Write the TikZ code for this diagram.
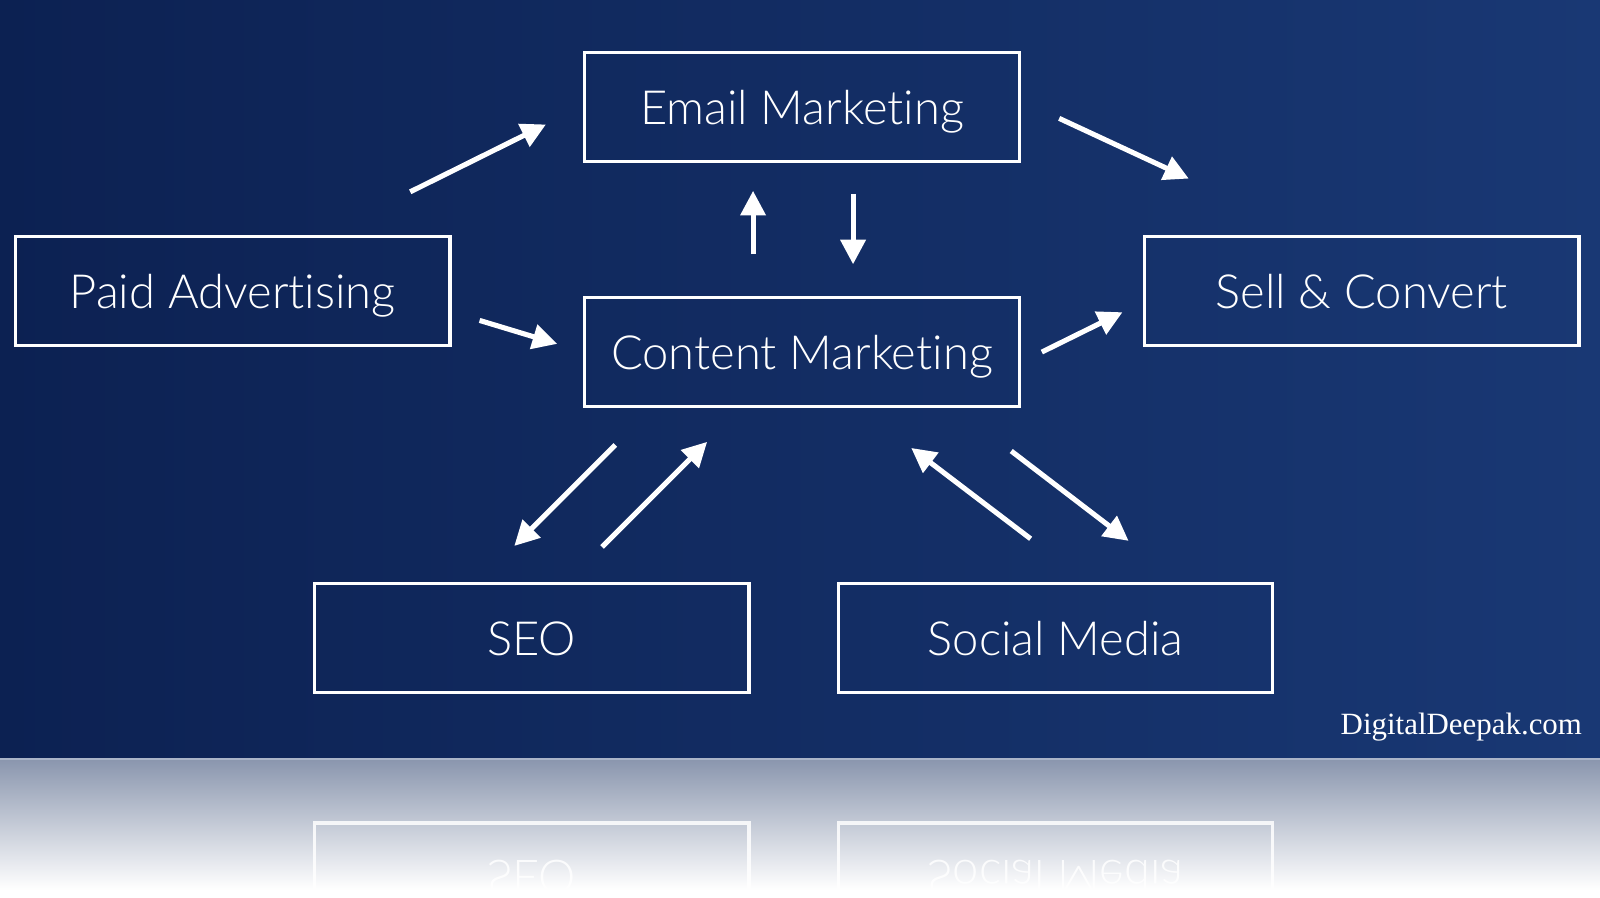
\documentclass[tikz,border=0pt]{standalone}
\usepackage{fontspec}
\setmainfont{Lato}[UprightFont={* Light},Ligatures=CommonOff]
\newfontfamily\sitefont{Liberation Serif}
\usepackage{tikz}
\usetikzlibrary{arrows.meta,positioning}
\usepackage{xcolor}
\definecolor{bgdark}{RGB}{12,33,82}
\definecolor{bglight}{RGB}{25,56,116}
\definecolor{reflgray}{RGB}{138,150,174}
\definecolor{rimline}{RGB}{170,180,200}

\begin{document}
\begin{tikzpicture}[x=0.010204cm,y=-0.010204cm,>={Triangle[length=7pt,width=7pt]},
  box/.style={draw=white,line width=0.9pt,minimum width=4.347cm,minimum height=1.092cm,
    inner sep=0pt,text depth=0pt,text=white,font=\fontsize{13.4}{15}\selectfont},
  flow/.style={->,white,line width=1.45pt}]
  \useasboundingbox (0,0) rectangle (1568,880);
  % background and reflection
  \shade[left color=bgdark,right color=bglight] (0,0) rectangle (1568,743);
  \fill[white] (0,743) rectangle (1568,880);
  \shade[top color=reflgray,bottom color=white] (0,744) rectangle (1568,872);
  \draw[rimline,line width=0.5pt] (0,743.5) -- (1568,743.5);

  \node[box] (email)                   at (786,105)  {Email Marketing};
  \node[box] (content) [below=1.325cm of email]       {Content Marketing};
  \node[box] (paid)                    at (228,285.5) {Paid Advertising};
  \node[box] (sell)                    at (1334.5,285.5) {Sell \& Convert};
  \node[box] (seo)                     at (521,625.5) {SEO};
  \node[box] (social)                  at (1034.5,625.5) {Social Media};
  \node[text=white,inner sep=0pt,font=\sitefont\fontsize{8.8}{10}\selectfont,anchor=base east]
    (site) at (1551,720) {DigitalDeepak.com};

  % arrow ends
  \coordinate (pe1) at (402,188);  \coordinate (pe2) at (535,122);
  \coordinate (pc1) at (470,314);  \coordinate (pc2) at (546,337);
  \coordinate (ce1) at (738,249);  \coordinate (ce2) at (738,187);
  \coordinate (ec1) at (836,190);  \coordinate (ec2) at (836,259);
  \coordinate (es1) at (1038,116); \coordinate (es2) at (1165,175);
  \coordinate (cs1) at (1021,345); \coordinate (cs2) at (1100,306);
  \coordinate (co1) at (603,436);  \coordinate (co2) at (504,535);
  \coordinate (oc1) at (590,536);  \coordinate (oc2) at (693,433);
  \coordinate (mc1) at (1010,528); \coordinate (mc2) at (893,439);
  \coordinate (cm1) at (991,442);  \coordinate (cm2) at (1106,530);

  \path[flow] (pe1) edge (pe2)
              (pc1) edge (pc2)
              (ce1) edge (ce2)
              (ec1) edge (ec2)
              (es1) edge (es2)
              (cs1) edge (cs2)
              (co1) edge (co2)
              (oc1) edge (oc2)
              (mc1) edge (mc2)
              (cm1) edge (cm2);

  % mirrored boxes below the rim
  \begin{scope}
    \clip (0,745) rectangle (1568,880);
    \begin{scope}[yshift=-15.163cm,yscale=-1,opacity=0.85]
      \node[box,transform shape] (seoR)    at (521,625.5)    {SEO};
      \node[box,transform shape] (socialR) at (1034.5,625.5) {Social Media};
    \end{scope}
  \end{scope}
\end{tikzpicture}
\end{document}
